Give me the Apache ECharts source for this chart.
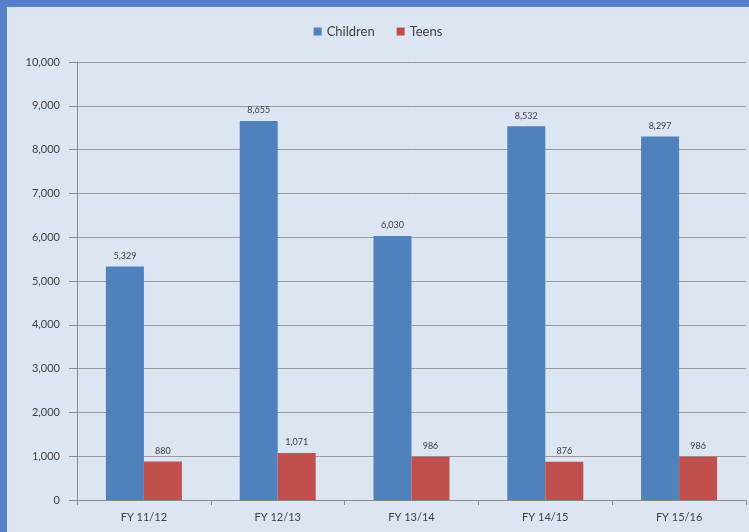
<!DOCTYPE html>
<html>
<head>
<meta charset="utf-8">
<script src="https://cdn.jsdelivr.net/npm/echarts@6/dist/echarts.min.js"></script>
<style>
    html, body { margin: 0; padding: 0; }
    #frame {
        width: 742px; height: 525px;
        border-top: 7px solid #5680c9;
        border-left: 7px solid #5680c9;
        background: #dce6f2;
    }
    #chart { width: 742px; height: 525px; }
</style>
</head>
<body>
<div id="frame"><div id="chart"></div></div>
<script>
// 数据
var categories = ['FY 11/12', 'FY 12/13', 'FY 13/14', 'FY 14/15', 'FY 15/16'];
var children = [5329, 8655, 6030, 8532, 8297];
var teens = [880, 1071, 986, 876, 986];
var seriesNames = ['Children', 'Teens'];

var fontName = 'Lato';
var myChart = echarts.init(document.getElementById('chart'));

function labelOpt() {
    return {
        show: true,
        position: 'top',
        distance: 6,
        fontFamily: fontName,
        fontSize: 9,
        color: '#404040',
        formatter: function (p) { return p.value.toLocaleString('en-US'); }
    };
}

var option = {
    animation: false,
    legend: {
        data: seriesNames,
        icon: 'rect',
        top: 13,
        left: 'center',
        itemWidth: 8,
        itemHeight: 8,
        itemGap: 22,
        textStyle: { fontFamily: fontName, fontSize: 13, color: '#404040' }
    },
    grid: { left: 70, top: 55, right: 3, bottom: 32 },
    xAxis: {
        type: 'category',
        data: categories,
        axisLine: { lineStyle: { color: '#8c8c8c' } },
        axisTick: { show: true, length: 5, lineStyle: { color: '#8c8c8c' } },
        axisLabel: { fontFamily: fontName, fontSize: 11, color: '#404040', margin: 12 }
    },
    yAxis: {
        type: 'value',
        min: 0,
        max: 10000,
        interval: 1000,
        axisLine: { show: true, lineStyle: { color: '#8c8c8c' } },
        axisTick: { show: true, length: 8, lineStyle: { color: '#8c8c8c' } },
        axisLabel: {
            fontFamily: fontName, fontSize: 11, color: '#404040', margin: 17,
            formatter: function (v) { return v.toLocaleString('en-US'); }
        },
        splitLine: { lineStyle: { color: '#9a9a9a' } }
    },
    series: [{
        name: seriesNames[0],
        type: 'bar',
        data: children,
        barWidth: 38,
        barGap: '0%',
        itemStyle: { color: '#4f81bd' },
        label: labelOpt()
    }, {
        name: seriesNames[1],
        type: 'bar',
        data: teens,
        barWidth: 38,
        barGap: '0%',
        itemStyle: { color: '#c0504d' },
        label: labelOpt()
    }]
};

myChart.setOption(option);
</script>
</body>
</html>
